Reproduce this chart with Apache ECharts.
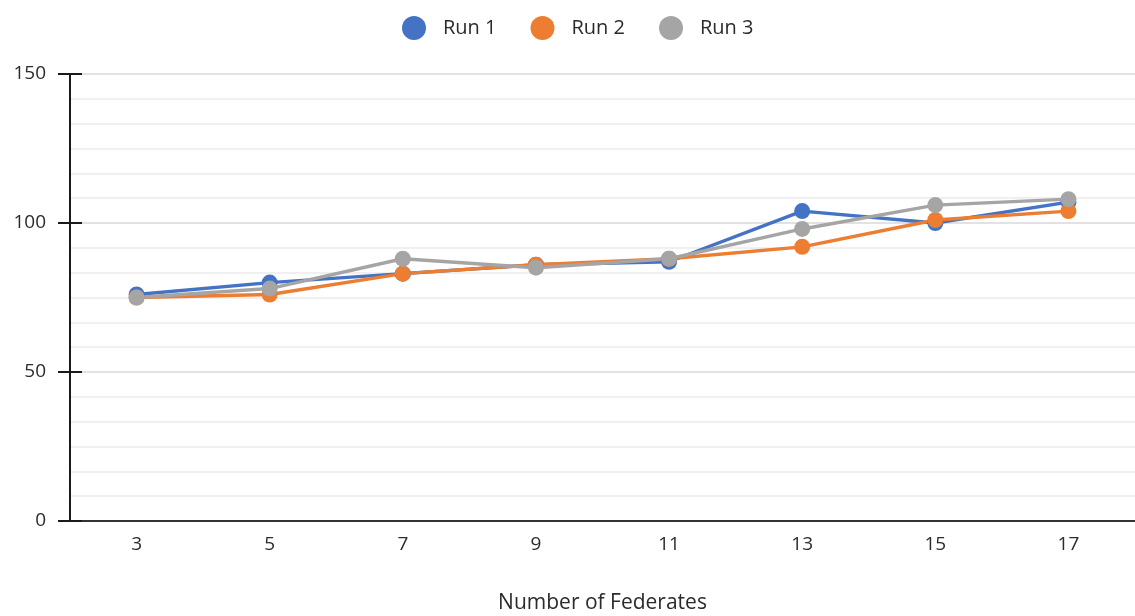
<!DOCTYPE html>
<html>
<head>
<meta charset="utf-8">
<script src="https://cdn.jsdelivr.net/npm/echarts@6/dist/echarts.min.js"></script>
<style>
  html, body { margin: 0; padding: 0; background: #ffffff; }
  #chart { width: 1135px; height: 616px; }
</style>
</head>
<body>
<div id="chart"></div>
<script>
// Federates on the x axis, one line per run
const categories = ['3', '5', '7', '9', '11', '13', '15', '17'];
const run1 = [76, 80, 83, 86, 87, 104, 100, 107];
const run2 = [75, 76, 83, 86, 88, 92, 101, 104];
const run3 = [75, 78, 88, 85, 88, 98, 106, 108];
const seriesNames = ['Run 1', 'Run 2', 'Run 3'];
const seriesColors = ['#4472C4', '#ED7D31', '#A5A5A5'];

const FONT = '"Open Sans", Lato, sans-serif';
const TEXT = '#2b2b2b';

const chart = echarts.init(document.getElementById('chart'), null, { renderer: 'canvas' });

function lineSeries(name, data, color) {
  return {
    name: name,
    type: 'line',
    data: data,
    yAxisIndex: 0,
    symbol: 'circle',
    symbolSize: 16,
    lineStyle: { color: color, width: 3.4 },
    itemStyle: { color: color },
    emphasis: { disabled: true },
    animation: false
  };
}

const yBase = { type: 'value', min: 0, max: 150, interval: 50, position: 'left' };

chart.setOption({
  backgroundColor: '#ffffff',
  animation: false,
  legend: {
    data: seriesNames,
    top: 11,
    left: 397,
    icon: 'circle',
    itemWidth: 24,
    itemHeight: 24,
    itemGap: 34,
    textStyle: { fontFamily: FONT, fontSize: 20, color: TEXT, padding: [0, 0, 0, 12] }
  },
  grid: { left: 70, right: 0, top: 74, bottom: 95, outerBoundsMode: 'none' },
  xAxis: {
    type: 'category',
    data: categories,
    boundaryGap: true,
    name: 'Number of Federates',
    nameLocation: 'middle',
    nameGap: 72,
    nameTextStyle: { fontFamily: FONT, fontSize: 21, color: TEXT },
    axisLine: { show: true, lineStyle: { color: '#333333', width: 2 } },
    axisTick: { show: false },
    axisLabel: { fontFamily: FONT, fontSize: 19, color: TEXT, margin: 14 },
    splitLine: { show: false }
  },
  yAxis: [
    Object.assign({}, yBase, {
      axisLine: { show: true, lineStyle: { color: '#1a1a1a', width: 2 } },
      axisTick: { show: true, length: 12, lineStyle: { color: '#1a1a1a', width: 2 } },
      axisLabel: { fontFamily: FONT, fontSize: 19, color: TEXT, margin: 24 },
      splitLine: { show: true, lineStyle: { color: '#d9d9d9', width: 1.5 } },
      minorTick: { show: false, splitNumber: 6 },
      minorSplitLine: { show: true, lineStyle: { color: '#ececec', width: 1.5 } }
    }),
    // inward half of the crossing tick marks
    Object.assign({}, yBase, {
      axisLine: { show: false },
      axisTick: { show: true, inside: true, length: 12, lineStyle: { color: '#1a1a1a', width: 2 } },
      axisLabel: { show: false },
      splitLine: { show: false }
    })
  ],
  series: [
    lineSeries(seriesNames[0], run1, seriesColors[0]),
    lineSeries(seriesNames[1], run2, seriesColors[1]),
    lineSeries(seriesNames[2], run3, seriesColors[2])
  ]
});
</script>
</body>
</html>
